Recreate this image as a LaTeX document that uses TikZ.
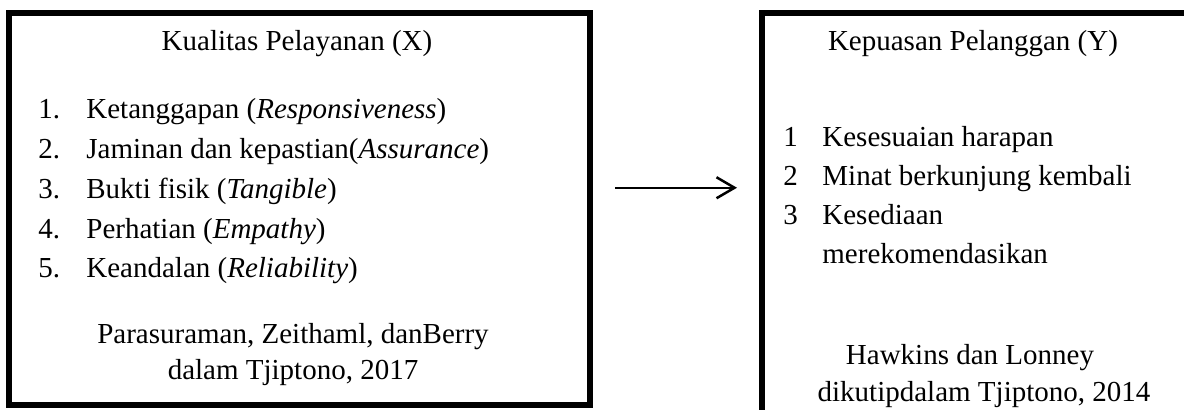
\documentclass[tikz,border=0pt]{standalone}
\usepackage{fontspec}
\setmainfont{Liberation Serif}
\usetikzlibrary{arrows.meta}
\begin{document}
\begin{tikzpicture}[x=0.5pt,y=-0.5pt,
  txt/.style={inner sep=0pt,font=\fontsize{14.5}{17}\selectfont},
  lt/.style={txt,anchor=base west},
  ct/.style={txt,anchor=base},
  frame/.style={draw,line width=3pt,inner sep=0pt,outer sep=0pt},
  arr/.style={-{Straight Barb[length=9pt,width=10.5pt]},line width=1.25pt}]
\useasboundingbox (0,0) rectangle (1184,409);
\clip (0,0) rectangle (1184,409);
% boxes
\node[frame,minimum width=290.5pt,minimum height=196.25pt] (xbox) at (299,208.75) {};
\node[frame,minimum width=215pt,minimum height=203.75pt] (ybox) at (977,216.25) {};
% left box texts
\node[ct] (xt) at (297,50) {Kualitas Pelayanan (X)};
\node[lt] (n1) at (38,118) {1.};
\node[lt] (i1) at (86,118) {Ketanggapan (\textit{Responsiveness})};
\node[lt] (n2) at (38,158) {2.};
\node[lt] (i2) at (86,158) {Jaminan dan kepastian(\textit{Assurance})};
\node[lt] (n3) at (38,198) {3.};
\node[lt] (i3) at (86,198) {Bukti fisik (\textit{Tangible})};
\node[lt] (n4) at (38,238) {4.};
\node[lt] (i4) at (86,238) {Perhatian (\textit{Empathy})};
\node[lt] (n5) at (38,277) {5.};
\node[lt] (i5) at (86,277) {Keandalan (\textit{Reliability})};
\node[ct] (xs1) at (293,343) {Parasuraman, Zeithaml, danBerry};
\node[ct] (xs2) at (293,379) {dalam Tjiptono, 2017};
% right box texts
\node[ct] (yt) at (973,50) {Kepuasan Pelanggan (Y)};
\node[lt] (m1) at (783,146) {1};
\node[lt] (j1) at (822,146) {Kesesuaian harapan};
\node[lt] (m2) at (783,185) {2};
\node[lt] (j2) at (822,185) {Minat berkunjung kembali};
\node[lt] (m3) at (783,224) {3};
\node[lt] (j3) at (822,224) {Kesediaan};
\node[lt] (j4) at (822,263) {merekomendasikan};
\node[ct] (ys1) at (970,364) {Hawkins dan Lonney};
\node[ct] (ys2) at (984,401) {dikutipdalam Tjiptono, 2014};
% arrow
\coordinate (as) at ([yshift=10.5pt]xbox.east);
\draw[arr,shorten <=12.75pt,shorten >=12.5pt] (as) -- (as -| ybox.west);
\end{tikzpicture}
\end{document}
